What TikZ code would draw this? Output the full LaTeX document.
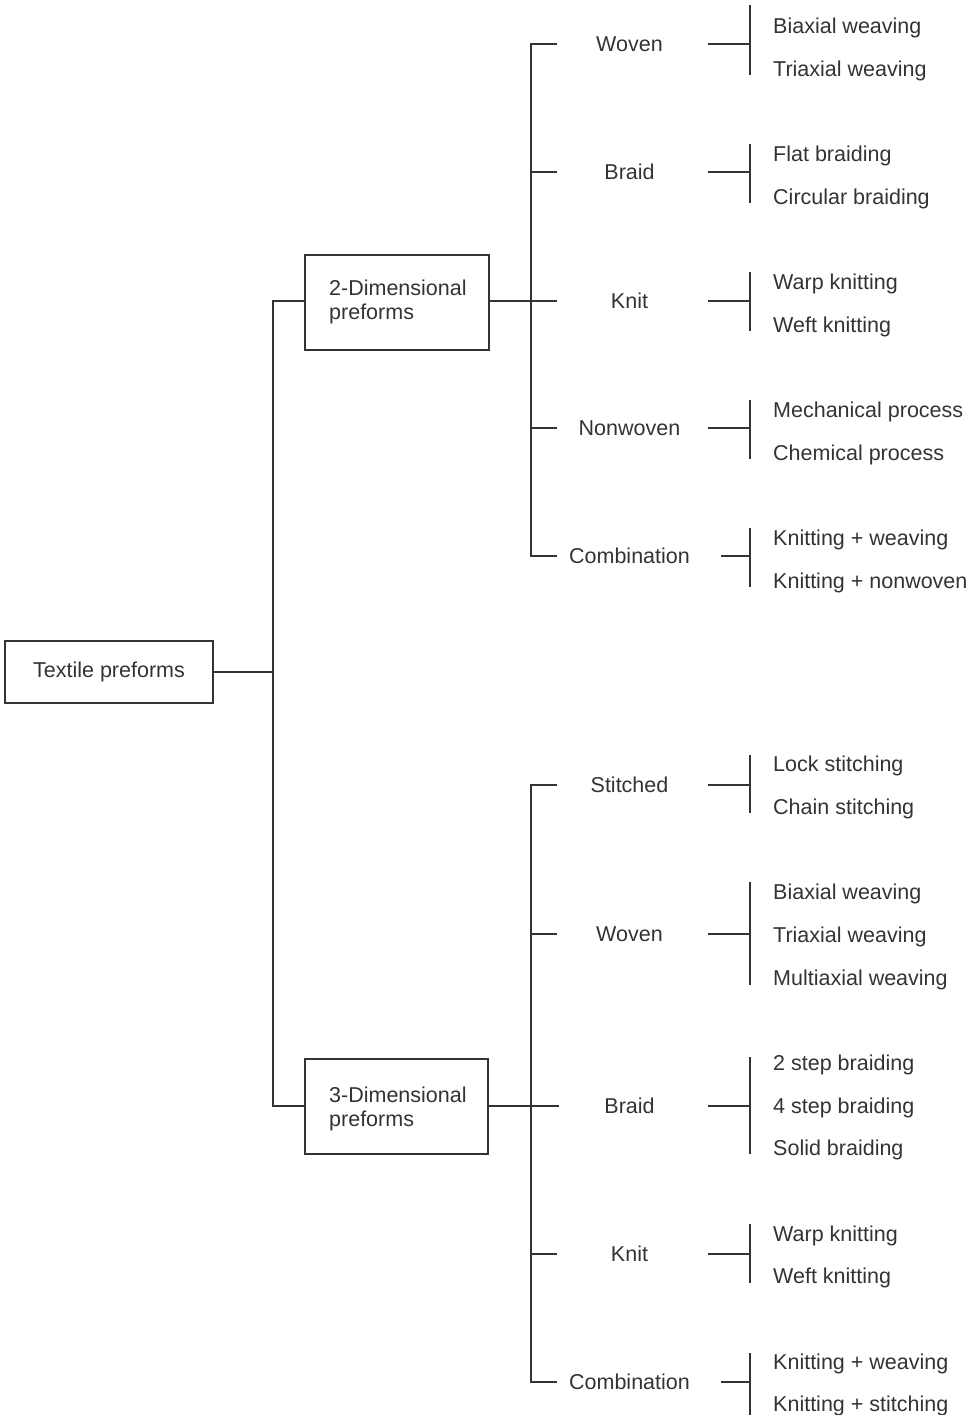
\documentclass[tikz,border=0pt]{standalone}
\usepackage{fontspec}
\setmainfont{Liberation Sans}
\definecolor{ink}{HTML}{333333}
\begin{document}
\begin{tikzpicture}[x=1pt,y=-1pt,
  every node/.style={text=ink, font=\fontsize{21.5}{24}\selectfont},
  box/.style={draw=ink, line width=1.3pt, inner sep=0pt},
  lbl/.style={inner sep=0pt, text height=15.4pt, text depth=0pt, anchor=center},
  leaf/.style={lbl, anchor=west},
  ln/.style={draw=ink, line width=1.3pt}]
\useasboundingbox (0,0) rectangle (979,1415);
% main boxes
\node[box, minimum width=208pt, minimum height=62pt] (tp) at (109,672) {Textile preforms};
\node[box, minimum width=184pt, minimum height=95pt] (d2) at (397,302.5) {};
\node[box, minimum width=183pt, minimum height=95pt] (d3) at (396.5,1106.5) {};
\node[anchor=west, align=left, inner sep=0pt] (d2t) at (329,302) {2-Dimensional\\preforms};
\node[anchor=west, align=left, inner sep=0pt] (d3t) at (329,1109) {3-Dimensional\\preforms};
% helper coordinates
\coordinate (j) at (273,672);
\coordinate (t2) at (273,301);
\coordinate (t3) at (273,1106);
\coordinate (sp) at (531,0);
\coordinate (st) at (557,0);
\coordinate (rs) at (708,0);
\coordinate (rc) at (721,0);
\coordinate (br) at (750,0);
% trunk
\draw[ln] (tp.east) -- (j);
\draw[ln] (d2.west|-t2) -- (t2) -- (t3) -- (d3.west|-t3);
% mid labels 2D
\node[lbl] (m2a) at (629.5,44) {Woven};
\node[lbl] (m2b) at (629.5,172) {Braid};
\node[lbl] (m2c) at (629.5,301) {Knit};
\node[lbl] (m2d) at (629.5,428) {Nonwoven};
\node[lbl] (m2e) at (629.5,556) {Combination};
% mid labels 3D
\node[lbl] (m3a) at (629.5,785) {Stitched};
\node[lbl] (m3b) at (629.5,934) {Woven};
\node[lbl] (m3c) at (629.5,1106) {Braid};
\node[lbl] (m3d) at (629.5,1254) {Knit};
\node[lbl] (m3e) at (629.5,1382) {Combination};
% 2D spine
\draw[ln] (st|-m2a) -- (sp|-m2a) -- (sp|-m2e) -- (st|-m2e);
\draw[ln] (sp|-m2b) -- (st|-m2b);
\draw[ln] (sp|-m2d) -- (st|-m2d);
\draw[ln] (d2.east|-t2) -- (st|-m2c);
% 3D spine
\draw[ln] (st|-m3a) -- (sp|-m3a) -- (sp|-m3e) -- (st|-m3e);
\draw[ln] (sp|-m3b) -- (st|-m3b);
\draw[ln] (sp|-m3d) -- (st|-m3d);
\draw[ln] (d3.east|-t3) -- (559,1106);
% right stubs
\foreach \m in {m2a,m2b,m2c,m2d,m3a,m3b,m3c,m3d}{\draw[ln] (rs|-\m) -- (br|-\m);}
\foreach \m in {m2e,m3e}{\draw[ln] (rc|-\m) -- (br|-\m);}
% brackets
\draw[ln] (750,5) -- (750,75);
\draw[ln] (750,144) -- (750,203);
\draw[ln] (750,272) -- (750,331);
\draw[ln] (750,400) -- (750,459);
\draw[ln] (750,528) -- (750,587);
\draw[ln] (750,755) -- (750,813);
\draw[ln] (750,882) -- (750,985);
\draw[ln] (750,1057) -- (750,1154);
\draw[ln] (750,1224) -- (750,1283);
\draw[ln] (750,1353) -- (750,1415);
% leaves 2D
\node[leaf] (l1) at (773,26) {Biaxial weaving};
\node[leaf] (l2) at (773,69) {Triaxial weaving};
\node[leaf] (l3) at (773,154) {Flat braiding};
\node[leaf] (l4) at (773,197) {Circular braiding};
\node[leaf] (l5) at (773,282) {Warp knitting};
\node[leaf] (l6) at (773,325) {Weft knitting};
\node[leaf] (l7) at (773,410) {Mechanical process};
\node[leaf] (l8) at (773,453) {Chemical process};
\node[leaf] (l9) at (773,538) {Knitting + weaving};
\node[leaf] (l10) at (773,581) {Knitting + nonwoven};
% leaves 3D
\node[leaf] (k1) at (773,764) {Lock stitching};
\node[leaf] (k2) at (773,807) {Chain stitching};
\node[leaf] (k3) at (773,892) {Biaxial weaving};
\node[leaf] (k4) at (773,935) {Triaxial weaving};
\node[leaf] (k5) at (773,978) {Multiaxial weaving};
\node[leaf] (k6) at (773,1063) {2 step braiding};
\node[leaf] (k7) at (773,1106) {4 step braiding};
\node[leaf] (k8) at (773,1148) {Solid braiding};
\node[leaf] (k9) at (773,1234) {Warp knitting};
\node[leaf] (k10) at (773,1276) {Weft knitting};
\node[leaf] (k11) at (773,1362) {Knitting + weaving};
\node[leaf] (k12) at (773,1404) {Knitting + stitching};
\end{tikzpicture}
\end{document}
